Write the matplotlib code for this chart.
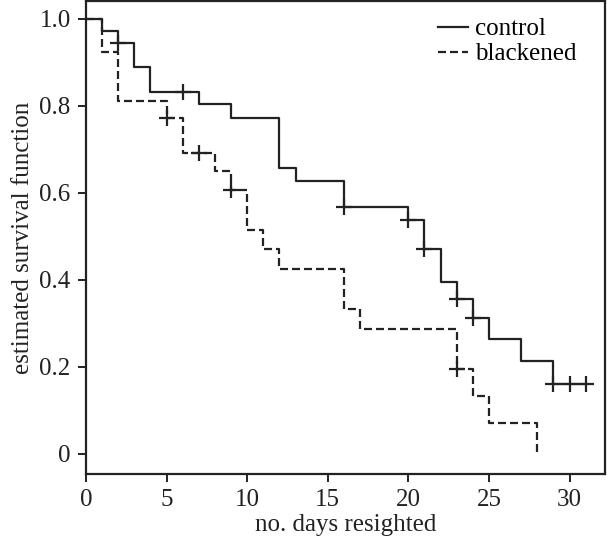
import matplotlib
matplotlib.use('Agg')
import matplotlib.pyplot as plt

plt.rcParams['font.family'] = ['Liberation Serif', 'DejaVu Serif']

# control group: step times and survival after each step
control_t = [0, 1, 2, 3, 4, 7, 9, 12, 13, 16, 20, 21, 22, 23, 24, 25, 27, 29, 31]
control_s = [1.0, 0.972, 0.945, 0.888, 0.832, 0.803, 0.772, 0.657, 0.627,
             0.567, 0.537, 0.471, 0.394, 0.356, 0.313, 0.263, 0.213, 0.161, 0.161]
control_cens_t = [2, 6, 16, 20, 21, 23, 24, 29, 30, 31]
control_cens_s = [0.945, 0.832, 0.567, 0.537, 0.471, 0.356, 0.313, 0.161, 0.161, 0.161]

# blackened group
black_t = [0, 1, 2, 5, 6, 8, 9, 10, 11, 12, 16, 17, 23, 24, 25, 28]
black_s = [1.0, 0.924, 0.810, 0.772, 0.692, 0.649, 0.606, 0.515, 0.471,
           0.424, 0.332, 0.286, 0.195, 0.134, 0.072, 0.0]
black_cens_t = [5, 7, 9, 23]
black_cens_s = [0.772, 0.692, 0.606, 0.195]

fig = plt.figure(figsize=(6.07, 5.36), dpi=100)
ax = fig.add_axes([0.1417, 0.1157, 0.855, 0.882])

ax.step(control_t, control_s, where='post', color='#222222', lw=1.6,
        ls='-', label='control')
ax.step(black_t, black_s, where='post', color='#222222', lw=1.6,
        ls=(0, (3.6, 1.8)), label='blackened')
ax.plot(control_cens_t, control_cens_s, '+', color='#222222', ms=11, mew=1.6)
ax.plot(black_cens_t, black_cens_s, '+', color='#222222', ms=11, mew=1.6)

ax.set_xlim(0, 32.2)
ax.set_ylim(-0.046, 1.04)
ax.set_xticks([0, 5, 10, 15, 20, 25, 30])
ax.set_yticks([0, 0.2, 0.4, 0.6, 0.8, 1.0])
ax.set_yticklabels(['0', '0.2', '0.4', '0.6', '0.8', '1.0'])
ax.tick_params(direction='out', length=6, width=1.4, labelsize=18,
               colors='#222222', pad=5)
for sp in ax.spines.values():
    sp.set_linewidth(1.6)
    sp.set_color('#222222')

ax.set_xlabel('no. days resighted', fontsize=18, color='#222222', labelpad=2)
ax.set_ylabel('estimated survival function', fontsize=18, color='#222222',
              labelpad=4)

ax.legend(loc='upper right', bbox_to_anchor=(0.946, 0.965), frameon=False,
          fontsize=18, handlelength=1.2, handletextpad=0.3,
          labelspacing=0.1, borderaxespad=0, borderpad=0)

plt.savefig('out.png', dpi=100)
